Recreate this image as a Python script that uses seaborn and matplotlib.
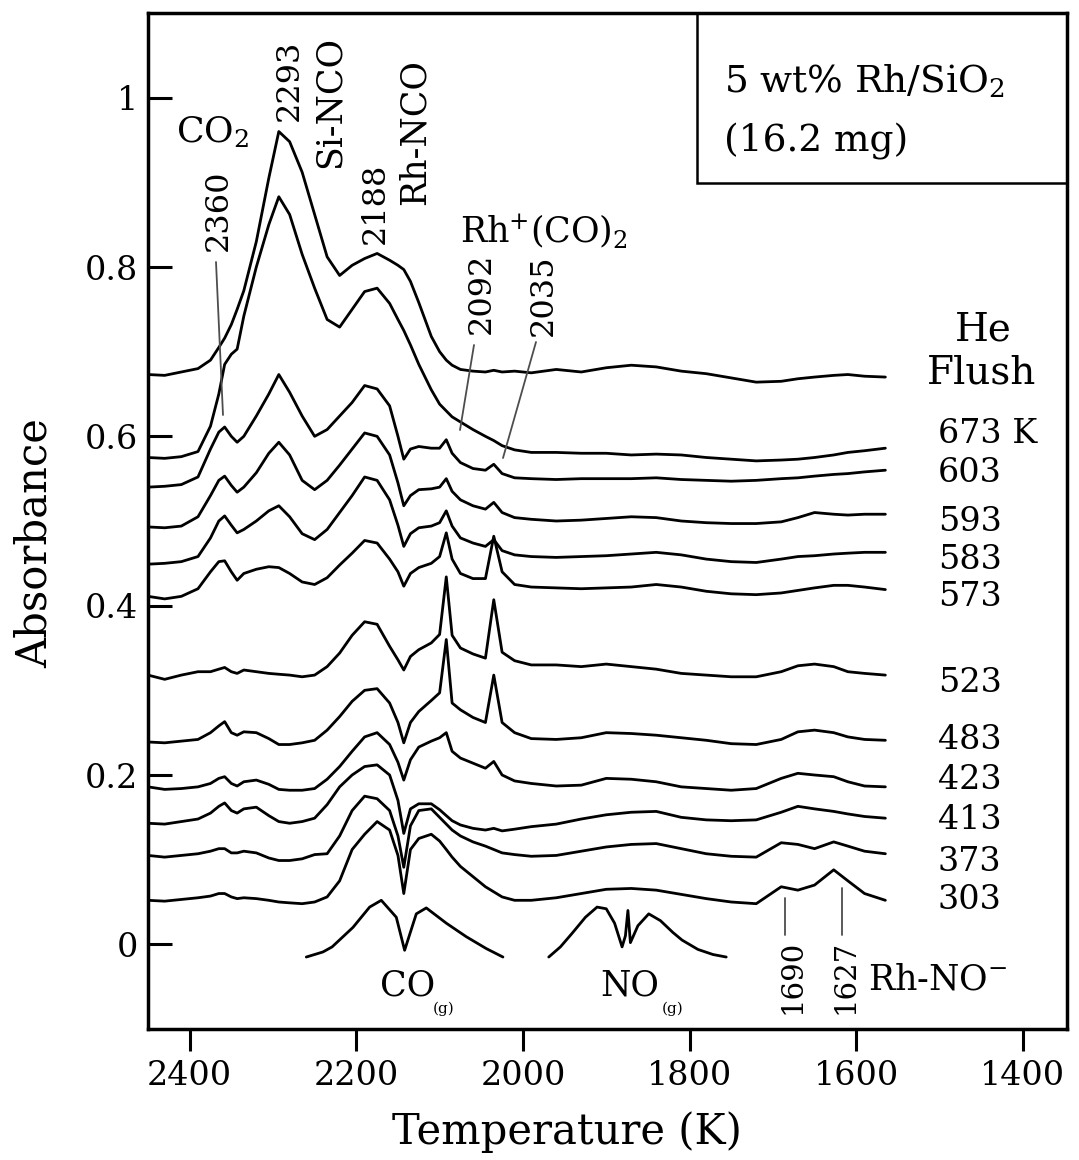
import numpy as np
import pandas as pd
import matplotlib
matplotlib.use("Agg")
import matplotlib.pyplot as plt
from matplotlib.lines import Line2D
from matplotlib.patches import Rectangle
import seaborn as sns

# ---------------- data ----------------
wavenumber = [2450, 2430, 2410, 2390, 2375, 2365, 2358, 2350, 2343, 2335,
              2320, 2305, 2293, 2280, 2265, 2250, 2235, 2220, 2205, 2190,
              2175, 2160, 2150, 2143, 2135, 2125, 2110, 2100, 2092, 2085,
              2075, 2060, 2045, 2035, 2025, 2010, 1990, 1960, 1930, 1900,
              1870, 1840, 1810, 1780, 1750, 1720, 1690, 1670, 1650, 1627,
              1610, 1590, 1565]

abs_he = [.673, .672, .676, .680, .690, .705, .716, .732, .750, .772,
          .830, .905, .960, .948, .912, .862, .812, .790, .802, .810,
          .816, .808, .802, .797, .783, .758, .718, .700, .690, .684,
          .679, .677, .676, .678, .676, .677, .675, .679, .676, .681,
          .684, .682, .677, .674, .669, .664, .665, .668, .670, .672,
          .673, .671, .670]
abs_673 = [.575, .574, .576, .582, .612, .650, .685, .697, .703, .742,
           .800, .850, .883, .862, .815, .775, .738, .729, .750, .771,
           .775, .757, .738, .725, .708, .685, .655, .638, .630, .623,
           .617, .608, .600, .595, .589, .584, .581, .581, .580, .580,
           .578, .579, .578, .575, .573, .571, .572, .573, .575, .578,
           .581, .583, .586]
abs_603 = [.540, .541, .543, .552, .585, .605, .611, .600, .593, .600,
           .624, .650, .673, .652, .624, .600, .608, .624, .640, .660,
           .656, .636, .600, .573, .585, .588, .586, .586, .596, .580,
           .569, .562, .560, .567, .556, .551, .550, .549, .550, .550,
           .550, .551, .549, .548, .547, .548, .550, .551, .553, .555,
           .556, .558, .560]
abs_593 = [.493, .492, .494, .505, .530, .548, .553, .542, .534, .540,
           .557, .580, .593, .578, .548, .537, .548, .566, .585, .604,
           .600, .578, .545, .518, .530, .537, .538, .540, .550, .535,
           .525, .518, .514, .522, .510, .504, .502, .500, .501, .503,
           .505, .504, .500, .498, .497, .497, .499, .504, .510, .508,
           .507, .508, .508]
abs_583 = [.449, .450, .452, .458, .480, .500, .506, .495, .486, .490,
           .500, .512, .518, .505, .485, .478, .490, .510, .530, .552,
           .548, .525, .495, .470, .485, .492, .494, .498, .512, .494,
           .480, .474, .470, .478, .465, .460, .458, .457, .458, .459,
           .461, .463, .460, .455, .452, .451, .455, .458, .459, .461,
           .462, .463, .463]
abs_573 = [.411, .408, .411, .420, .440, .452, .453, .440, .430, .438,
           .443, .446, .445, .438, .428, .425, .433, .448, .462, .477,
           .474, .455, .440, .423, .438, .445, .450, .458, .486, .455,
           .438, .432, .432, .482, .440, .425, .422, .421, .420, .421,
           .422, .425, .422, .417, .414, .413, .415, .418, .421, .424,
           .424, .422, .419]
abs_523 = [.318, .313, .318, .322, .322, .325, .327, .322, .320, .324,
           .322, .320, .319, .318, .316, .318, .328, .344, .365, .381,
           .378, .352, .336, .324, .340, .348, .356, .366, .434, .365,
           .350, .343, .338, .407, .345, .335, .330, .330, .328, .331,
           .328, .325, .320, .318, .316, .316, .322, .329, .331, .328,
           .322, .320, .318]
abs_483 = [.239, .238, .240, .242, .250, .258, .263, .250, .247, .251,
           .250, .243, .236, .236, .238, .241, .253, .269, .287, .300,
           .302, .285, .262, .238, .262, .275, .288, .297, .360, .285,
           .277, .268, .262, .318, .262, .250, .243, .242, .244, .250,
           .249, .247, .244, .241, .237, .236, .242, .251, .253, .250,
           .245, .242, .241]
abs_423 = [.186, .183, .184, .186, .190, .196, .198, .190, .187, .192,
           .194, .189, .183, .182, .182, .184, .195, .210, .228, .245,
           .250, .236, .215, .194, .218, .233, .240, .244, .250, .228,
           .220, .214, .208, .216, .200, .193, .190, .187, .188, .196,
           .195, .192, .186, .184, .182, .184, .196, .202, .200, .198,
           .192, .187, .186]
abs_413 = [.143, .142, .145, .148, .155, .163, .167, .158, .155, .160,
           .162, .152, .145, .143, .145, .149, .165, .186, .200, .210,
           .212, .200, .170, .131, .160, .166, .166, .159, .152, .146,
           .141, .137, .135, .137, .134, .136, .139, .142, .148, .153,
           .156, .157, .150, .147, .146, .147, .156, .163, .160, .157,
           .154, .151, .149]
abs_373 = [.105, .103, .105, .107, .110, .113, .113, .108, .108, .110,
           .108, .102, .099, .099, .101, .106, .107, .128, .158, .175,
           .172, .158, .128, .091, .140, .158, .160, .150, .142, .135,
           .128, .121, .116, .112, .108, .106, .104, .105, .110, .115,
           .118, .119, .113, .107, .104, .103, .120, .118, .113, .121,
           .116, .110, .107]
abs_303 = [.052, .051, .053, .055, .057, .060, .060, .056, .054, .055,
           .054, .052, .050, .049, .048, .050, .056, .075, .112, .130,
           .145, .135, .105, .060, .112, .125, .130, .122, .112, .103,
           .092, .080, .068, .062, .056, .052, .052, .055, .060, .065,
           .066, .064, .059, .054, .050, .048, .068, .064, .070, .088,
           .075, .060, .052]

co_gas_wn = [2260, 2240, 2229, 2204, 2184, 2170, 2152, 2142, 2128, 2116,
             2092, 2068, 2044, 2024]
co_gas_abs = [-0.015, -0.009, -0.003, 0.020, 0.044, 0.052, 0.032, -0.007,
              0.036, 0.043, 0.025, 0.009, -0.005, -0.015]

no_gas_wn = [1969, 1955, 1941, 1925, 1911, 1900, 1890, 1881, 1877, 1874,
             1871, 1862, 1849, 1835, 1820, 1809, 1790, 1772, 1756]
no_gas_abs = [-0.015, -0.003, 0.013, 0.032, 0.044, 0.042, 0.025, -0.003,
              0.010, 0.040, 0.002, 0.022, 0.036, 0.028, 0.014, 0.005,
              -0.006, -0.012, -0.015]

spectrum_names = ["He Flush", "673 K", "603", "593", "583", "573",
                  "523", "483", "423", "413", "373", "303"]
label_y_px = [None, 434, 473, 522, 560, 597, 683, 740, 780, 820, 862, 900]

x_ticks = [2400, 2200, 2000, 1800, 1600, 1400]
y_ticks = [0, 0.2, 0.4, 0.6, 0.8, 1.0]
y_tick_labels = ["0", "0.2", "0.4", "0.6", "0.8", "1"]

# ---------------- build long table ----------------
series = [abs_he, abs_673, abs_603, abs_593, abs_583, abs_573,
          abs_523, abs_483, abs_423, abs_413, abs_373, abs_303]
frames = [pd.DataFrame({"wavenumber": wavenumber, "absorbance": v,
                        "spectrum": n}) for n, v in zip(spectrum_names, series)]
frames.append(pd.DataFrame({"wavenumber": co_gas_wn, "absorbance": co_gas_abs,
                            "spectrum": "CO(g)"}))
frames.append(pd.DataFrame({"wavenumber": no_gas_wn, "absorbance": no_gas_abs,
                            "spectrum": "NO(g)"}))
df = pd.concat(frames, ignore_index=True)

# ---------------- style ----------------
sns.set_theme(style="ticks")
plt.rcParams["font.family"] = ["DejaVu Serif"]
plt.rcParams["mathtext.fontset"] = "dejavuserif"
plt.rcParams["axes.facecolor"] = "white"
plt.rcParams["text.color"] = "black"
plt.rcParams["axes.labelcolor"] = "black"
plt.rcParams["xtick.color"] = "black"
plt.rcParams["ytick.color"] = "black"

W, H = 1079, 1160
fig = plt.figure(figsize=(W / 100, H / 100), dpi=100)
L, R, T, B = 148, 1067, 13, 1029
ax = fig.add_axes([L / W, 1 - B / H, (R - L) / W, (B - T) / H])


def fx(x):
    return x / W


def fy(y):
    return 1 - y / H


sns.lineplot(data=df, x="wavenumber", y="absorbance", units="spectrum",
             estimator=None, color="black", linewidth=2.0, ax=ax,
             legend=False, sort=True)

ax.set_xlim(2450, 1347)
ax.set_ylim(-0.1, 1.1)
ax.set_xticks(x_ticks)
ax.set_xticklabels([str(t) for t in x_ticks])
ax.set_yticks(y_ticks)
ax.set_yticklabels(y_tick_labels)
ax.tick_params(axis="x", direction="out", length=16, width=2.2,
               labelsize=24, pad=6, colors="black", labelcolor="black")
ax.tick_params(axis="y", direction="in", length=17, width=2.2,
               labelsize=24, pad=7, colors="black", labelcolor="black")
for s in ax.spines.values():
    s.set_linewidth(2.5)
    s.set_color("black")
ax.set_xlabel("")
ax.set_ylabel("")

TXT = dict(color="black")
fig.text(fx(567), fy(1132), "Temperature (K)", fontsize=30,
         ha="center", va="center", **TXT)
fig.text(fx(35), fy(543), "Absorbance", fontsize=30, rotation=90,
         ha="center", va="center", **TXT)

# sample box
fig.add_artist(Rectangle((fx(697), fy(183)), fx(1067) - fx(697),
                         fy(13) - fy(183), transform=fig.transFigure,
                         fill=False, edgecolor="black", linewidth=1.8))
fig.text(fx(724), fy(92), r"5 wt% Rh/SiO$_2$", fontsize=27,
         ha="left", va="baseline", **TXT)
fig.text(fx(724), fy(152), "(16.2 mg)", fontsize=27, ha="left",
         va="baseline", **TXT)

# temperature labels
fig.text(fx(983), fy(330), "He", fontsize=28, ha="center", va="center", **TXT)
fig.text(fx(982), fy(373), "Flush", fontsize=28, ha="center", va="center",
         **TXT)
for name, yp in zip(spectrum_names[1:], label_y_px[1:]):
    fig.text(fx(938), fy(yp), name, fontsize=24, ha="left", va="center",
             **TXT)

# band annotations
ann = dict(fontsize=23, ha="center", va="center", rotation=90, color="black")
fig.text(fx(176), fy(143), r"CO$_2$", fontsize=26, ha="left", va="baseline",
         **TXT)
fig.text(fx(218), fy(210), "2360", **ann)
fig.text(fx(289), fy(80), "2293", **ann)
fig.text(fx(330), fy(102), "Si-NCO", fontsize=25, ha="center", va="center",
         rotation=90, **TXT)
fig.text(fx(375), fy(203), "2188", **ann)
fig.text(fx(415), fy(132), "Rh-NCO", fontsize=25, ha="center", va="center",
         rotation=90, **TXT)
fig.text(fx(460), fy(242), r"Rh$^{+}$(CO)$_2$", fontsize=25, ha="left",
         va="baseline", **TXT)
fig.text(fx(481), fy(293), "2092", **ann)
fig.text(fx(543), fy(295), "2035", **ann)

fig.text(fx(380), fy(996), "CO", fontsize=25, ha="left", va="baseline", **TXT)
fig.text(fx(433), fy(1013), "(g)", fontsize=11, ha="left", va="baseline",
         **TXT)
fig.text(fx(600), fy(996), "NO", fontsize=25, ha="left", va="baseline", **TXT)
fig.text(fx(662), fy(1013), "(g)", fontsize=11, ha="left", va="baseline",
         **TXT)
fig.text(fx(792), fy(977), "1690", fontsize=21, ha="center", va="center",
         rotation=90, **TXT)
fig.text(fx(845), fy(977), "1627", fontsize=21, ha="center", va="center",
         rotation=90, **TXT)
fig.text(fx(868), fy(990), r"Rh-NO$^{-}$", fontsize=25, ha="left",
         va="baseline", **TXT)

leaders = [((216, 262), (223, 415)),
           ((474, 345), (460, 430)),
           ((536, 342), (503, 458)),
           ((785, 898), (785, 935)),
           ((842, 888), (842, 935))]
for (x0, y0), (x1, y1) in leaders:
    fig.add_artist(Line2D([fx(x0), fx(x1)], [fy(y0), fy(y1)],
                          transform=fig.transFigure, color="0.3",
                          linewidth=1.3))

fig.savefig("out.png", dpi=100, facecolor="white")
